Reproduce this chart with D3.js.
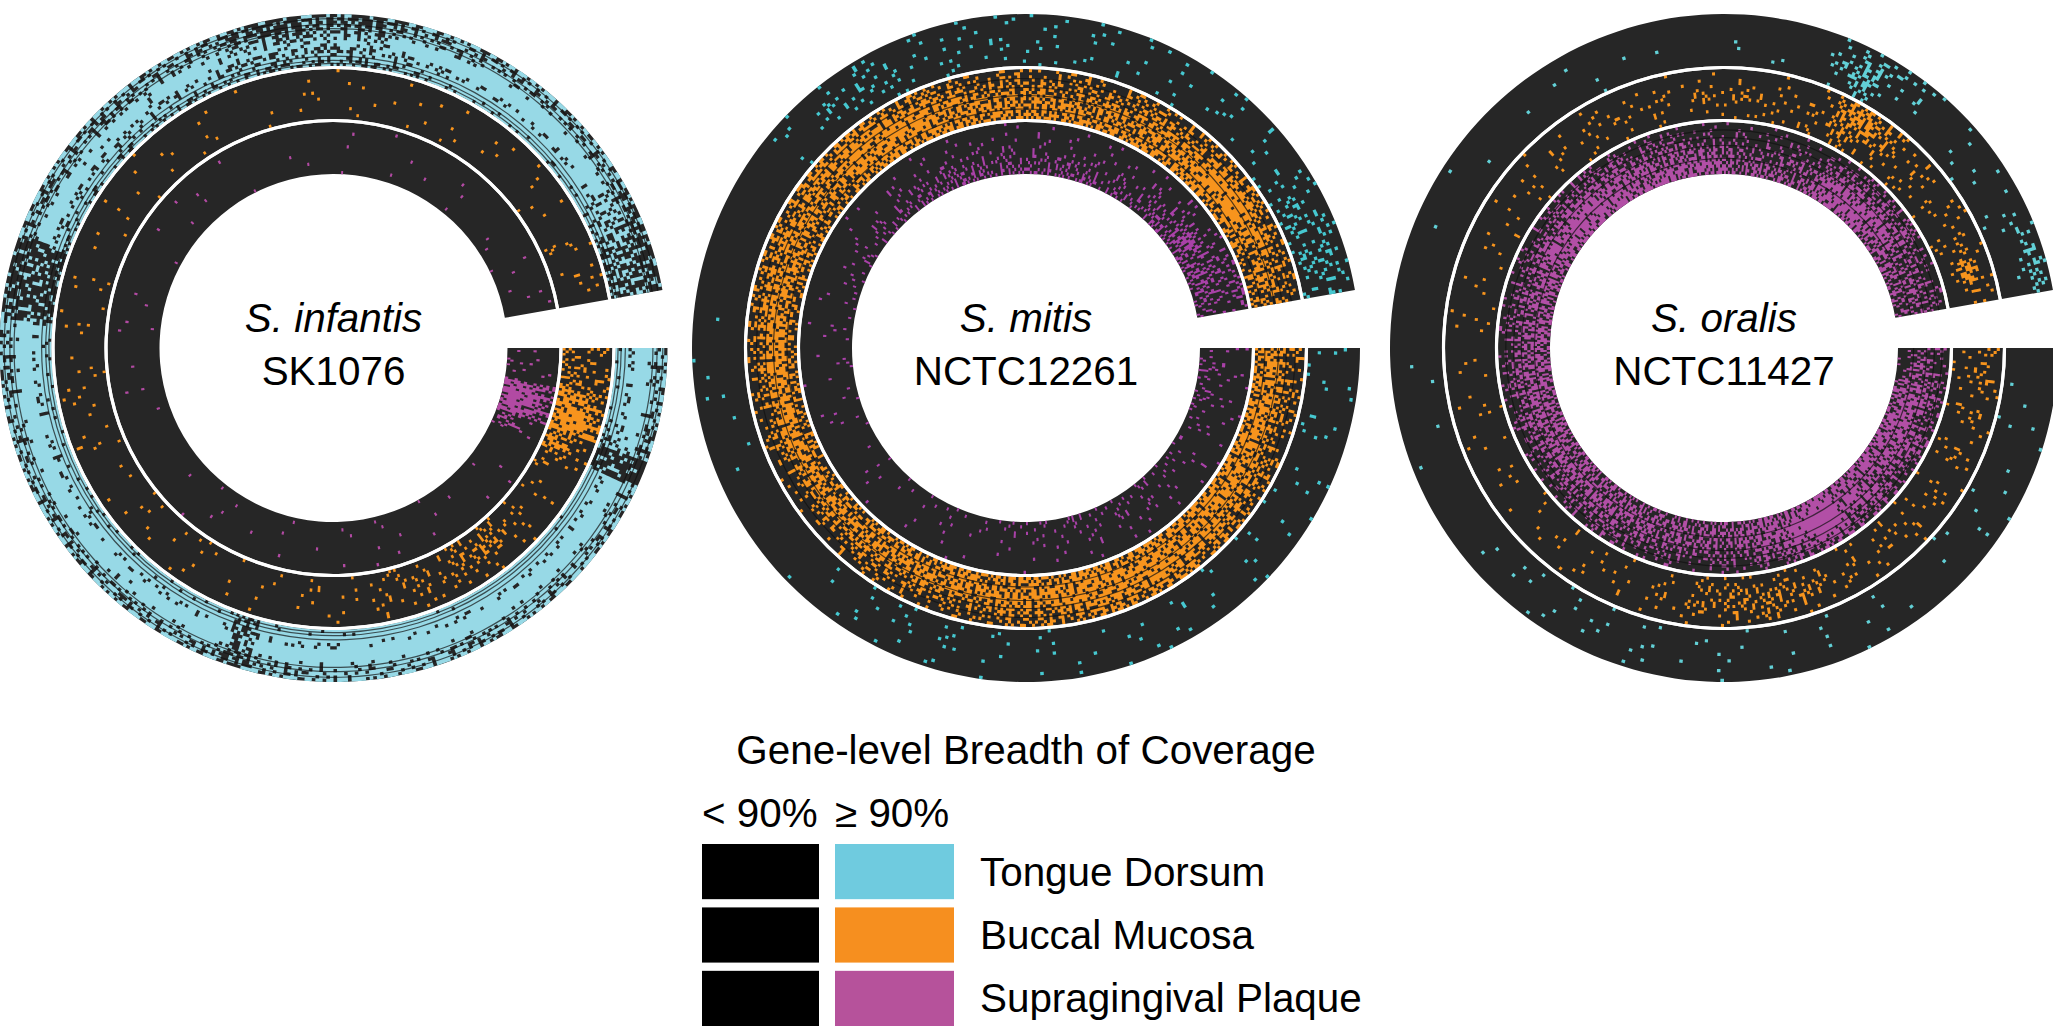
<!DOCTYPE html>
<html>
<head>
<meta charset="utf-8">
<style>
    body { margin: 0; background: #fff; }
    svg { display: block; }
    text { font-family: "Liberation Sans", Arial, sans-serif; fill: #000; }
</style>
</head>
<body>
<div id="wrapper"></div>
<script src="https://cdn.jsdelivr.net/npm/d3@7"></script>
<script>
// coverage: one string per radial track (outer to inner),
// one digit per 5 degree sector, starting at the gap and going clockwise.
// 0 = nothing above 90%, 9 = everything above 90%
const infantisTongue = [
    "8886399899 9998999889 8488898888 8988888333 6868686666 6565656688 8888887644",
    "9997399999 9999999999 9599989998 9898998333 8888878887 7767777889 9999997755",
    "6776377777 7877888877 7487777877 7777777333 6766767676 5565566767 7777776544",
    "9998399999 9999999999 9599999999 9999999433 9999898998 8877878999 9999997644",
    "9998399999 9999999999 9599998999 9999999333 9998998998 6656669999 9999996544",
    "8888288888 8888888888 7488888888 8888888333 7777766777 5445556777 8888876544",
    "6665377677 7666777776 6366666666 6767667433 6566566665 4334445666 6666665433",
    "6665166676 6666777776 6466666666 6666666433 6666666665 4334434665 6666664433"
]
const infantisBuccal = [
    "4467520112 2321120101 1010200110 0100100101 0000100100 1000010101 0000100100",
    "3477631012 3221211010 0001010001 0010100010 0100010010 0010100000 1000000210",
    "3378521023 4322311011 1000100100 1001010100 0010000100 0100010010 0100100100",
    "2368520123 4321211101 0100010010 0110101001 0001001000 0001001001 0010010010",
    "3268310112 3332121010 0010100100 0101100100 1010010000 0011000100 0000100211",
    "2357210011 2211211101 0100001010 0011010010 0100100100 0000110010 0100100101",
    "2246210101 1112110010 0010100001 0100101001 0010000010 0010000001 0010010021",
    "2335100010 1101010100 0100010000 0101000100 0000100001 0000100100 0001000110"
]
const infantisPlaque = [
    "2277300000 0010010000 1000010000 0000000000 0100000010 0000100000 0100001000",
    "1288400100 0000100100 0000100000 0010000100 0000000000 0010000100 0000010010",
    "1188400000 1000001000 0100000100 0000000010 0000100000 0000000001 0000100000",
    "1077300000 0100100000 0000100000 0001000000 0000010000 0100000000 0010000100",
    "2077200100 0000010010 0010000000 0000100001 0000010000 0000100010 0000000001",
    "0166100000 0010000000 0000010000 0001000100 0010000000 0000000000 0100001000",
    "0155100010 0000100100 1000000000 0000001000 0000100100 0000010000 0000000010",
    "0044000100 0000010000 0000001000 0000000000 0000000000 0000000100 0000000001"
]
const mitisTongue = [
    "1101011010 1000000101 1011100000 0000000000 0000100011 1101110101 1000122222",
    "1011000100 1010100101 0110101000 0010000000 0000101121 0111011100 1010122342",
    "0110100100 0101001010 1111000000 0001000000 0000012220 1101201010 0101013332",
    "0101010010 0100101100 0111010000 0000100000 0000012321 1211110101 0110124222",
    "1001001010 1001010010 1100100000 0100000100 0000013221 1011011010 1010112234",
    "1010010000 1010001001 0010100000 0000100000 0000102120 1110101101 0101011342",
    "0100100101 0101000100 0100010000 0000100000 0001101210 1101011011 0011011322",
    "0100101010 0010101001 0101000100 0000010000 0000101111 1111111111 1111011111"
]
const mitisBuccal = [
    "5656666666 6666665666 6655554443 3444443334 4444456666 6665666666 6666555444",
    "6667767777 6666776655 6666665555 5555555555 5444566767 6666656665 7667676354",
    "7677777776 6777777666 6666666666 6777777666 6555577776 6666666555 6678786465",
    "6676666766 7777777777 6766665666 7777777766 6665677887 6656555666 6678887564",
    "5655566677 7877777665 5555556555 5666677766 6666687777 7555545556 6667887655",
    "3444455666 7777766555 4444444433 3444455666 6666677776 5454444445 5556775543",
    "4333344455 6666655444 3333343222 2333344445 5556676555 4434334344 4444554443",
    "3232233444 5555544443 3223222111 1222233344 4445555444 3323233233 3334443332"
]
const mitisPlaque = [
    "2323212222 2122322222 1111101010 1010111112 2222333344 4444444443 3334444433",
    "2322111211 2212211211 1011010001 0101010111 1222233334 3333333332 3344554543",
    "1222110111 1121211110 1010101010 0010010101 1112222333 3332333322 2233463543",
    "1211101111 2111111101 0101000100 0100100100 1111112222 2222212222 2233474432",
    "1111011010 2111101010 0010100010 0010001001 0010111112 1211111111 1122343332",
    "1110101001 1101010101 0010000100 0100010010 0010011011 1111111011 1112223332",
    "0101011001 0100101000 0100100000 0010000100 0001001010 1010101010 0111112332",
    "1011001100 0101000010 0010000100 0000100000 0001000101 0011010101 0101112344"
]
const oralisTongue = [
    "0010010010 0001000100 1010100000 0000000000 0000000001 0000000013 0000100100",
    "0100000100 0100010010 0101010000 0000100000 0000000000 0000011004 1000101000",
    "0001001000 0000100101 0011001000 0010000000 0001000010 0000100025 1001010000",
    "0010000010 0100100010 1001010100 0000000000 0000001000 1100100035 2100100101",
    "0000100100 0010010100 0110101000 0000010000 1000000100 0000000035 2200001111",
    "0010010000 1000100001 0101000100 0000000000 0000000010 0000000024 2100100344",
    "0000000100 0100001010 1000100000 0100000000 0010000000 0000000013 3200011143",
    "0001001000 0010010010 0100010000 0000000000 0000000000 0000000012 2211000121"
]
const oralisBuccal = [
    "1110101011 0110211211 1010010010 0001000100 0100101101 1101122123 2211011100",
    "1210110101 1101122322 1011010100 0100100101 0101010111 1011011113 2121101110",
    "2121101112 1102233331 1101100101 1011001010 1010110101 1102211124 3212110220",
    "1211121112 1213343321 1112011001 0010010101 1101111222 2123332224 4321211261",
    "2312211211 2122433433 2101110100 1101010010 1011111121 1222221125 6322112373",
    "3322111121 1121333322 1110101001 0010100100 0101010111 1111111115 6422112142",
    "2211110110 1011223212 1010100010 0001001001 0010101010 1010101015 6421111111",
    "1111001010 0101112111 0100010000 0100000100 0000100100 0101001014 5321011111"
]
const oralisPlaque = [
    "1155666766 6776565444 4344455555 5555555555 5566777777 7766555555 7766555553",
    "2366777777 6887666555 5555555555 6666666666 6677887766 7777555545 7787665544",
    "3567776667 7998776555 5566666666 6666666666 6778887766 6666544444 7787765544",
    "4567776667 7998765555 5555666666 6666655555 6777777666 5555433445 7777764454",
    "4566666667 7998665444 5555555555 5555655555 5666776655 5544333333 5666664454",
    "3455565566 6887654443 4444555544 5555544444 4555555544 4433222233 4555564444",
    "3344454455 5776543332 3334444333 3333333333 3334444433 3322222222 3444453333",
    "2233343334 4554322221 2223333222 2222222222 2223333222 2211111111 2233342222"
]

// long dark tracks across a ring (0 = outer edge, 1 = inner edge)
const infantisTongueLines = [0.05, 0.11, 0.19, 0.72, 0.8, 0.91]
const mitisBuccalLines = [0.2, 0.47, 0.63, 0.81]
const oralisPlaqueLines = [0.3, 0.55, 0.7, 0.85]

const species = ["S. infantis", "S. mitis", "S. oralis"]
const strains = ["SK1076", "NCTC12261", "NCTC11427"]
const sites = ["Tongue Dorsum", "Buccal Mucosa", "Supragingival Plaque"]
const coverage = [
    [infantisTongue, infantisBuccal, infantisPlaque],
    [mitisTongue, mitisBuccal, mitisPlaque],
    [oralisTongue, oralisBuccal, oralisPlaque]
]
const trackLines = [
    [infantisTongueLines, [], []],
    [[], mitisBuccalLines, []],
    [[], [], oralisPlaqueLines]
]

const legendTitle = "Gene-level Breadth of Coverage"
const legendHeads = ["< 90%", "\u2265 90%"]

// chart dimensions
const dimensions = {
    width: 2053,
    height: 1026,
    centers: [333.5, 1026, 1724],
    centerY: 348,
    ringEdges: [[282, 334], [229, 279], [174, 226]],
    separators: [280.5, 227.5]
}

const sectorCount = 70
const trackCount = 8
const subAngles = 8
const subTracks = 2
const fontSize = "40.4px"

// how many of a cell's 16 small squares are lit for each digit, and in which order they light up
const litCounts = [0, 1, 2, 4, 6, 8, 10, 12, 14, 16]
const litOrder = [5, 14, 2, 9, 12, 0, 7, 11, 3, 15, 6, 10, 1, 13, 4, 8]

const ringBase = "#262626"
const lineColor = "#111"
const panelColors = [
    ["#97d9e6", "#f7941d", "#b24aa3"],
    ["#46c8d0", "#f7941d", "#a941a8"],
    ["#62d0d6", "#f7941d", "#b24fa6"]
]
const legendColors = ["#6fcbdf", "#f68f1f", "#b6529b"]

// draw canvas
const wrapper = d3.select("#wrapper")
    .append("svg")
    .attr("width", dimensions.width)
    .attr("height", dimensions.height)

// create scales
const angleScale = d3.scaleLinear()
    .domain([0, sectorCount])
    .range([Math.PI / 2, Math.PI / 2 + 350 * Math.PI / 180])

function drawPanel(panel, panelIndex) {
    const bounds = wrapper.append("g")
        .attr("transform", `translate(${dimensions.centers[panelIndex]}, ${dimensions.centerY})`)

    panel.forEach((rows, ringIndex) => {
        const [outer, inner] = dimensions.ringEdges[ringIndex]
        const radiusScale = d3.scaleLinear()
            .domain([0, trackCount])
            .range([outer, inner])

        bounds.append("path")
            .attr("d", d3.arc()({
                innerRadius: inner,
                outerRadius: outer,
                startAngle: angleScale(0),
                endAngle: angleScale(sectorCount)
            }))
            .attr("fill", ringBase)

        // every lit square of the ring goes in one path
        const cells = d3.path()
        const arc = d3.arc().context(cells)
        rows.forEach((row, track) => {
            const digits = row.replace(/ /g, "")
            for (let sector = 0; sector < digits.length; sector++) {
                const lit = litCounts[+digits[sector]]
                const shift = (sector * 5 + track * 3) % 16
                for (let i = 0; i < lit; i++) {
                    const slot = litOrder[(i + shift) % 16]
                    const a = slot % subAngles
                    const t = Math.floor(slot / subAngles)
                    arc({
                        startAngle: angleScale(sector + a / subAngles),
                        endAngle: angleScale(sector + (a + 1) / subAngles),
                        outerRadius: radiusScale(track + t / subTracks),
                        innerRadius: radiusScale(track + (t + 1) / subTracks)
                    })
                }
            }
        })
        bounds.append("path")
            .attr("d", cells.toString())
            .attr("fill", panelColors[panelIndex][ringIndex])

        // dark tracks running around the ring
        const lineScale = d3.scaleLinear().domain([0, 1]).range([outer, inner])
        bounds.append("g")
            .selectAll("path")
            .data(trackLines[panelIndex][ringIndex])
            .enter().append("path")
            .attr("d", d => d3.arc()({
                innerRadius: lineScale(d) - 0.6,
                outerRadius: lineScale(d) + 0.6,
                startAngle: angleScale(0),
                endAngle: angleScale(sectorCount)
            }))
            .attr("fill", lineColor)
            .attr("opacity", 0.7)
    })

    // white lines between the rings
    bounds.selectAll(".separator")
        .data(dimensions.separators)
        .enter().append("path")
        .attr("class", "separator")
        .attr("d", d => d3.arc()({
            innerRadius: d - 1.6,
            outerRadius: d + 1.6,
            startAngle: angleScale(0),
            endAngle: angleScale(sectorCount)
        }))
        .attr("fill", "#fff")

    bounds.append("text")
        .attr("y", -16)
        .attr("text-anchor", "middle")
        .style("font-size", fontSize)
        .style("font-style", "italic")
        .text(species[panelIndex])

    bounds.append("text")
        .attr("y", 37)
        .attr("text-anchor", "middle")
        .style("font-size", fontSize)
        .text(strains[panelIndex])
}

coverage.forEach(drawPanel)

// legend
const swatchX = d3.scaleOrdinal().domain([0, 1]).range([702, 835])
const swatchY = d3.scaleBand()
    .domain(sites)
    .range([844, 1026])
    .paddingInner(0.13)

wrapper.append("text")
    .attr("x", 1026)
    .attr("y", 764)
    .attr("text-anchor", "middle")
    .style("font-size", fontSize)
    .text(legendTitle)

wrapper.selectAll(".legend-head")
    .data(legendHeads)
    .enter().append("text")
    .attr("class", "legend-head")
    .attr("x", (d, i) => swatchX(i))
    .attr("y", 827)
    .style("font-size", fontSize)
    .text(d => d)

const rows = wrapper.selectAll(".legend-row")
    .data(sites)
    .enter().append("g")
    .attr("class", "legend-row")
    .attr("transform", d => `translate(0, ${swatchY(d)})`)

rows.append("rect")
    .attr("x", swatchX(0))
    .attr("width", 117)
    .attr("height", swatchY.bandwidth())
    .attr("fill", "#000")

rows.append("rect")
    .attr("x", swatchX(1))
    .attr("width", 119)
    .attr("height", swatchY.bandwidth())
    .attr("fill", (d, i) => legendColors[i])

rows.append("text")
    .attr("x", 980)
    .attr("y", swatchY.bandwidth() / 2 + 14)
    .style("font-size", fontSize)
    .text(d => d)
</script>
</body>
</html>
